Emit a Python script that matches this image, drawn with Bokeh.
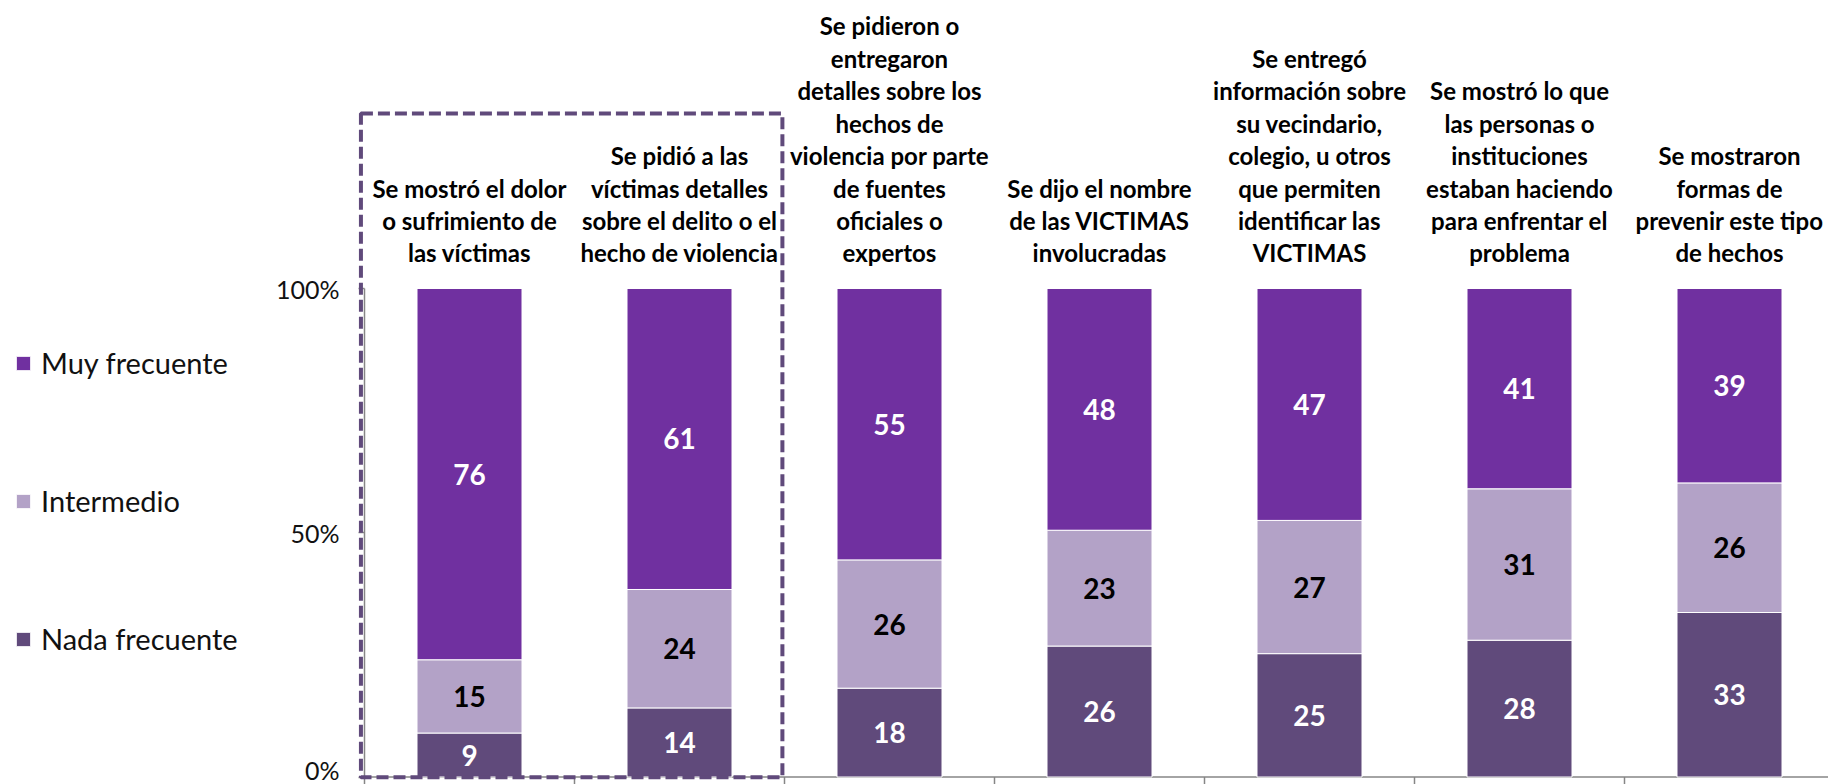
from bokeh.plotting import figure
from bokeh.models import (ColumnDataSource, Range1d, FixedTicker, Legend, LegendItem,
                          BoxAnnotation)
from bokeh.core.properties import value
from bokeh.embed import file_html
from bokeh.resources import INLINE

# ---------------- data ----------------
categories = [
    "Se mostró el dolor\no sufrimiento de\nlas víctimas",
    "Se pidió a las\nvíctimas detalles\nsobre el delito o el\nhecho de violencia",
    "Se pidieron o\nentregaron\ndetalles sobre los\nhechos de\nviolencia por parte\nde fuentes\noficiales o\nexpertos",
    "Se dijo el nombre\nde las VICTIMAS\ninvolucradas",
    "Se entregó\ninformación sobre\nsu vecindario,\ncolegio, u otros\nque permiten\nidentificar las\nVICTIMAS",
    "Se mostró lo que\nlas personas o\ninstituciones\nestaban haciendo\npara enfrentar el\nproblema",
    "Se mostraron\nformas de\nprevenir este tipo\nde hechos",
]
nada_frecuente = [9, 14, 18, 26, 25, 28, 33]
intermedio = [15, 24, 26, 23, 27, 31, 26]
muy_frecuente = [76, 61, 55, 48, 47, 41, 39]
series_names = ["Nada frecuente", "Intermedio", "Muy frecuente"]
series_colors = ["#604A7B", "#B3A2C7", "#7030A0"]
label_colors = ["white", "black", "white"]
y_ticks = [0, 50, 100]
y_tick_labels = ["0%", "50%", "100%"]

FONT = "Lato"

# ---------------- figure ----------------
W, H = 1828, 784
AXIS_X = 364.0        # pixel position of the value axis
cat_px = 210.0        # pixel width of one category
px_per_unit = 4.885   # pixels per percentage point
ZERO_Y = 776.5        # pixel position of 0 %

p = figure(width=W, height=H, output_backend="svg", toolbar_location=None,
           x_axis_location=None, min_border_left=0, min_border_right=0,
           min_border_top=0, min_border_bottom=0)
p.x_range = Range1d(-AXIS_X / cat_px, (W - AXIS_X) / cat_px)
y_start = -(H - ZERO_Y) / px_per_unit
p.y_range = Range1d(y_start, y_start + H / px_per_unit)
p.xgrid.visible = False
p.ygrid.visible = False
p.outline_line_color = None
p.background_fill_color = "white"

# y axis (fixed at x = 0)
ax = p.yaxis[0]
ax.fixed_location = 0
ax.bounds = (0, 100)
ax.ticker = FixedTicker(ticks=y_ticks, minor_ticks=[])
ax.major_label_overrides = {t: l for t, l in zip(y_ticks, y_tick_labels)}
ax.axis_line_color = "#868686"
ax.axis_line_width = 1.5
ax.major_tick_line_color = "#868686"
ax.major_tick_line_width = 1.5
ax.major_tick_out = 6
ax.major_tick_in = 0
ax.minor_tick_line_color = None
ax.major_label_standoff = 19
ax.major_label_text_font = FONT
ax.major_label_text_font_size = "25px"
ax.major_label_text_color = "#111111"

n = len(categories)

# category axis: baseline and boundary ticks
p.segment(x0=[0], y0=[0], x1=[n], y1=[0], line_color="#868686", line_width=1.5)
bounds = list(range(0, n + 1))
p.segment(x0=bounds, y0=[0] * len(bounds), x1=bounds, y1=[y_start] * len(bounds),
          line_color="#868686", line_width=1.5)

# ---------------- bars ----------------
xs = [i + 0.5 for i in range(n)]
totals = [a + b + c for a, b, c in zip(nada_frecuente, intermedio, muy_frecuente)]
raw = [nada_frecuente, intermedio, muy_frecuente]
shares = [[v / t * 100 for v, t in zip(s, totals)] for s in raw]
keys = ["nada", "inter", "muy"]
src = ColumnDataSource(dict(x=xs, **{k: s for k, s in zip(keys, shares)}))
renderers = p.vbar_stack(keys, x="x", width=0.5, color=series_colors,
                         line_color="white", line_width=1, source=src)

# data labels
lx, ly, lt, lc = [], [], [], []
for i in range(n):
    bottom = 0.0
    for k in range(3):
        h = shares[k][i]
        lx.append(xs[i])
        ly.append(bottom + h / 2)
        lt.append(str(raw[k][i]))
        lc.append(label_colors[k])
        bottom += h
lsrc = ColumnDataSource(dict(x=lx, y=ly, text=lt, color=lc))
p.text(x="x", y="y", text="text", source=lsrc, text_color="color",
       text_align="center", text_baseline="middle", text_font=value(FONT),
       text_font_style="bold", text_font_size="28px")

# category titles
csrc = ColumnDataSource(dict(x=xs, y=[104.3] * n, text=categories))
p.text(x="x", y="y", text="text", source=csrc, text_color="black",
       text_align="center", text_baseline="bottom", text_font=value(FONT),
       text_font_style="bold", text_font_size="24px", text_line_height=1.12)

# dashed highlight box
p.add_layout(BoxAnnotation(left=-0.017, right=1.99, bottom=-0.05, top=135.8,
                           fill_alpha=0, line_alpha=1, line_color="#604A7B",
                           line_width=4, line_dash="12 5"))

# legend
items = [LegendItem(label=series_names[k], renderers=[renderers[k]]) for k in (2, 1, 0)]
legend = Legend(items=items, location=(14, 128), orientation="vertical",
                spacing=103, glyph_width=18, glyph_height=18, label_standoff=9,
                label_text_font=FONT, label_text_font_size="29px",
                label_text_color="#111111", padding=0, margin=0,
                border_line_alpha=0, background_fill_alpha=0)
p.add_layout(legend)

open("out.html", "w").write(file_html(p, INLINE))
